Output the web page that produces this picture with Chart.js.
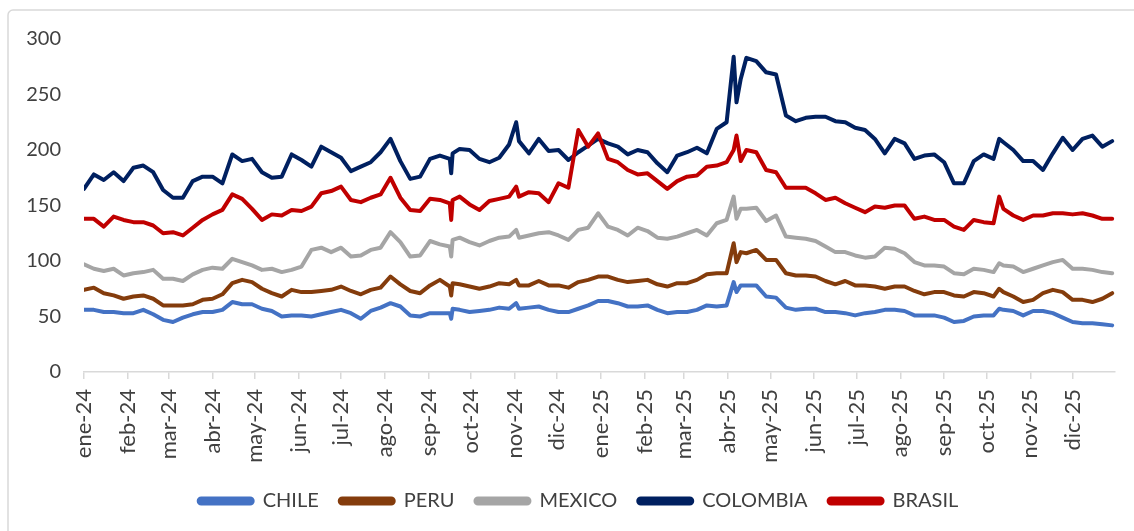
<!DOCTYPE html>
<html lang="es">
<head>
    <meta charset="UTF-8">
    <title>Índices por país</title>
    <script src="https://cdn.jsdelivr.net/npm/chart.js"></script>
    <style>
        body {
            margin: 0;
            background: #fff;
        }
        #wrap {
            width: 1134px;
            height: 531px;
        }
    </style>
</head>
<body>
<div id="wrap"><canvas id="paises" width="1134" height="531"></canvas></div>
<script>
    // month labels of the date axis (first day of each month from ene-24)
    const months = ['ene-24', 'feb-24', 'mar-24', 'abr-24', 'may-24', 'jun-24', 'jul-24', 'ago-24', 'sep-24', 'oct-24', 'nov-24', 'dic-24',
        'ene-25', 'feb-25', 'mar-25', 'abr-25', 'may-25', 'jun-25', 'jul-25', 'ago-25', 'sep-25', 'oct-25', 'nov-25', 'dic-25'];

    // observation dates, as days counted from 1 Jan 2024
    const days = [0, 7, 14, 21, 28, 35, 42, 49, 56, 63, 70, 77, 84, 91, 98, 105, 112, 119, 126, 133, 140, 147, 154, 161, 168, 175,
        182, 189, 196, 203, 210, 217, 224, 231, 238, 245, 252, 259, 260, 261, 266, 273, 280, 287, 294, 301, 306, 308, 315, 322,
        329, 336, 343, 350, 357, 364, 371, 378, 385, 392, 399, 406, 413, 420, 427, 434, 441, 448, 455, 460, 462, 465, 469, 476,
        483, 490, 497, 504, 511, 518, 525, 532, 539, 546, 553, 560, 567, 574, 581, 588, 595, 602, 609, 616, 623, 630, 637, 644,
        648, 651, 658, 665, 672, 679, 686, 693, 700, 707, 714, 721, 728];

    const chile = [56, 56, 54, 54, 53, 53, 56, 52, 47, 45, 49, 52, 54, 54, 56, 63, 61, 61, 57, 55, 50, 51, 51, 50, 52, 54,
        56, 53, 48, 55, 58, 62, 59, 51, 50, 53, 53, 53, 48, 57, 56, 54, 55, 56, 58, 57, 62, 57, 58, 59,
        56, 54, 54, 57, 60, 64, 64, 62, 59, 59, 60, 56, 53, 54, 54, 56, 60, 59, 60, 81, 72, 78, 78, 78,
        68, 67, 58, 56, 57, 57, 54, 54, 53, 51, 53, 54, 56, 56, 55, 51, 51, 51, 49, 45, 46, 50, 51, 51,
        57, 56, 55, 51, 55, 55, 53, 49, 45, 44, 44, 43, 42];

    const peru = [74, 76, 71, 69, 66, 68, 69, 66, 60, 60, 60, 61, 65, 66, 70, 80, 83, 81, 75, 71, 68, 74, 72, 72, 73, 74,
        77, 73, 70, 74, 76, 86, 79, 73, 71, 78, 83, 77, 69, 80, 79, 77, 75, 77, 80, 79, 83, 78, 78, 82,
        78, 78, 76, 81, 83, 86, 86, 83, 81, 82, 83, 79, 77, 80, 80, 83, 88, 89, 89, 116, 99, 108, 107, 110,
        101, 101, 89, 87, 87, 86, 82, 79, 82, 78, 78, 77, 75, 77, 77, 73, 70, 72, 72, 69, 68, 72, 71, 68,
        75, 72, 68, 63, 65, 71, 74, 72, 65, 65, 63, 66, 71];

    const mexico = [97, 93, 91, 93, 87, 89, 90, 92, 84, 84, 82, 88, 92, 94, 93, 102, 99, 96, 92, 93, 90, 92, 95, 110, 112, 108,
        112, 104, 105, 110, 112, 126, 117, 104, 105, 118, 115, 113, 104, 119, 121, 117, 114, 118, 121, 122, 128, 121, 123, 125,
        126, 123, 119, 128, 130, 143, 131, 128, 123, 130, 127, 121, 120, 122, 125, 128, 123, 134, 137, 158, 138, 147, 147, 148,
        136, 141, 122, 121, 120, 118, 113, 108, 108, 105, 103, 104, 112, 111, 107, 99, 96, 96, 95, 89, 88, 93, 92, 90,
        98, 96, 95, 90, 93, 96, 99, 101, 93, 93, 92, 90, 89];

    const colombia = [165, 178, 173, 180, 172, 184, 186, 180, 164, 157, 157, 172, 176, 176, 170, 196, 190, 192, 180, 175, 176, 196, 191, 185, 203, 198,
        193, 181, 185, 189, 198, 210, 190, 174, 176, 192, 195, 192, 179, 197, 201, 200, 192, 189, 193, 205, 225, 208, 197, 210,
        199, 200, 191, 198, 204, 210, 206, 203, 196, 200, 198, 188, 180, 195, 198, 202, 197, 219, 225, 284, 243, 264, 283, 280,
        270, 268, 231, 226, 229, 230, 230, 226, 225, 220, 218, 210, 197, 210, 206, 192, 195, 196, 189, 170, 170, 190, 196, 192,
        210, 207, 200, 190, 190, 182, 197, 211, 200, 210, 213, 203, 208];

    const brasil = [138, 138, 131, 140, 137, 135, 135, 132, 125, 126, 123, 130, 137, 142, 146, 160, 156, 147, 137, 142, 141, 146, 145, 149, 161, 163,
        167, 155, 153, 157, 160, 175, 157, 146, 145, 156, 155, 152, 137, 155, 158, 151, 146, 154, 156, 158, 167, 158, 162, 161,
        153, 170, 166, 218, 203, 215, 192, 189, 182, 178, 179, 172, 165, 172, 176, 177, 185, 186, 189, 200, 213, 190, 200, 198,
        182, 180, 166, 166, 166, 161, 155, 157, 152, 148, 144, 149, 148, 150, 150, 138, 140, 137, 137, 131, 128, 137, 135, 134,
        158, 147, 141, 137, 141, 141, 143, 143, 142, 143, 141, 138, 138];

    const monthStarts = months.map((m, i) => (Date.UTC(2024, i, 1) - Date.UTC(2024, 0, 1)) / 86400000);

    function serie(label, values, color, order) {
        return {
            label: label,
            data: days.map((d, i) => ({ x: d, y: values[i] })),
            borderColor: color,
            backgroundColor: color,
            borderWidth: 4,
            borderJoinStyle: 'round',
            borderCapStyle: 'round',
            pointRadius: 0,
            tension: 0,
            order: order
        };
    }

    // light grey frame, only top and left edges are inside the canvas
    const frame = {
        id: 'frame',
        beforeDraw(chart) {
            const ctx = chart.ctx;
            ctx.save();
            ctx.strokeStyle = '#d9d9d9';
            ctx.lineWidth = 1.5;
            ctx.beginPath();
            ctx.moveTo(8, 531);
            ctx.lineTo(8, 15);
            ctx.arcTo(8, 10, 13, 10, 5);
            ctx.lineTo(1134, 10);
            ctx.stroke();
            ctx.restore();
        }
    };

    // legend sits a bit right of the canvas centre
    const legendShift = {
        id: 'legendShift',
        afterLayout(chart) {
            chart.legend.left += 21;
            chart.legend.right += 21;
        }
    };

    new Chart(document.getElementById('paises'), {
        type: 'line',
        data: {
            datasets: [
                serie('CHILE', chile, '#4472C4', 4),
                serie('PERU', peru, '#843C0C', 3),
                serie('MEXICO', mexico, '#A5A5A5', 2),
                serie('COLOMBIA', colombia, '#002060', 1),
                serie('BRASIL', brasil, '#C00000', 0)
            ]
        },
        options: {
            responsive: false,
            animation: false,
            layout: { padding: { top: 39, right: 19, left: 0, bottom: 10 } },
            plugins: {
                tooltip: { enabled: false },
                legend: {
                    position: 'bottom',
                    labels: {
                        sort: (a, b) => a.datasetIndex - b.datasetIndex,
                        boxWidth: 54,
                        boxHeight: 5,
                        useBorderRadius: true,
                        borderRadius: 2.5,
                        padding: 21,
                        color: '#404040',
                        font: { family: 'Lato', size: 20 }
                    }
                }
            },
            scales: {
                x: {
                    type: 'linear',
                    min: 0,
                    max: 730,
                    afterBuildTicks: s => { s.ticks = monthStarts.map(v => ({ value: v })); },
                    afterFit: s => { s.height = 98; },
                    ticks: {
                        autoSkip: false,
                        maxRotation: 90,
                        minRotation: 90,
                        padding: 10,
                        color: '#404040',
                        font: { family: 'Lato', size: 22 },
                        callback: (v, i) => months[i]
                    },
                    grid: {
                        drawOnChartArea: false,
                        tickLength: 7,
                        color: '#d9d9d9',
                        lineWidth: 1.5
                    },
                    border: { color: '#d9d9d9', width: 1.5 }
                },
                y: {
                    min: 0,
                    max: 300,
                    afterFit: s => { s.width = 84; },
                    ticks: {
                        stepSize: 50,
                        padding: 23,
                        color: '#404040',
                        font: { family: 'Lato', size: 20 }
                    },
                    grid: { display: false, drawTicks: false },
                    border: { display: false }
                }
            }
        },
        plugins: [frame, legendShift]
    });
</script>
</body>
</html>
